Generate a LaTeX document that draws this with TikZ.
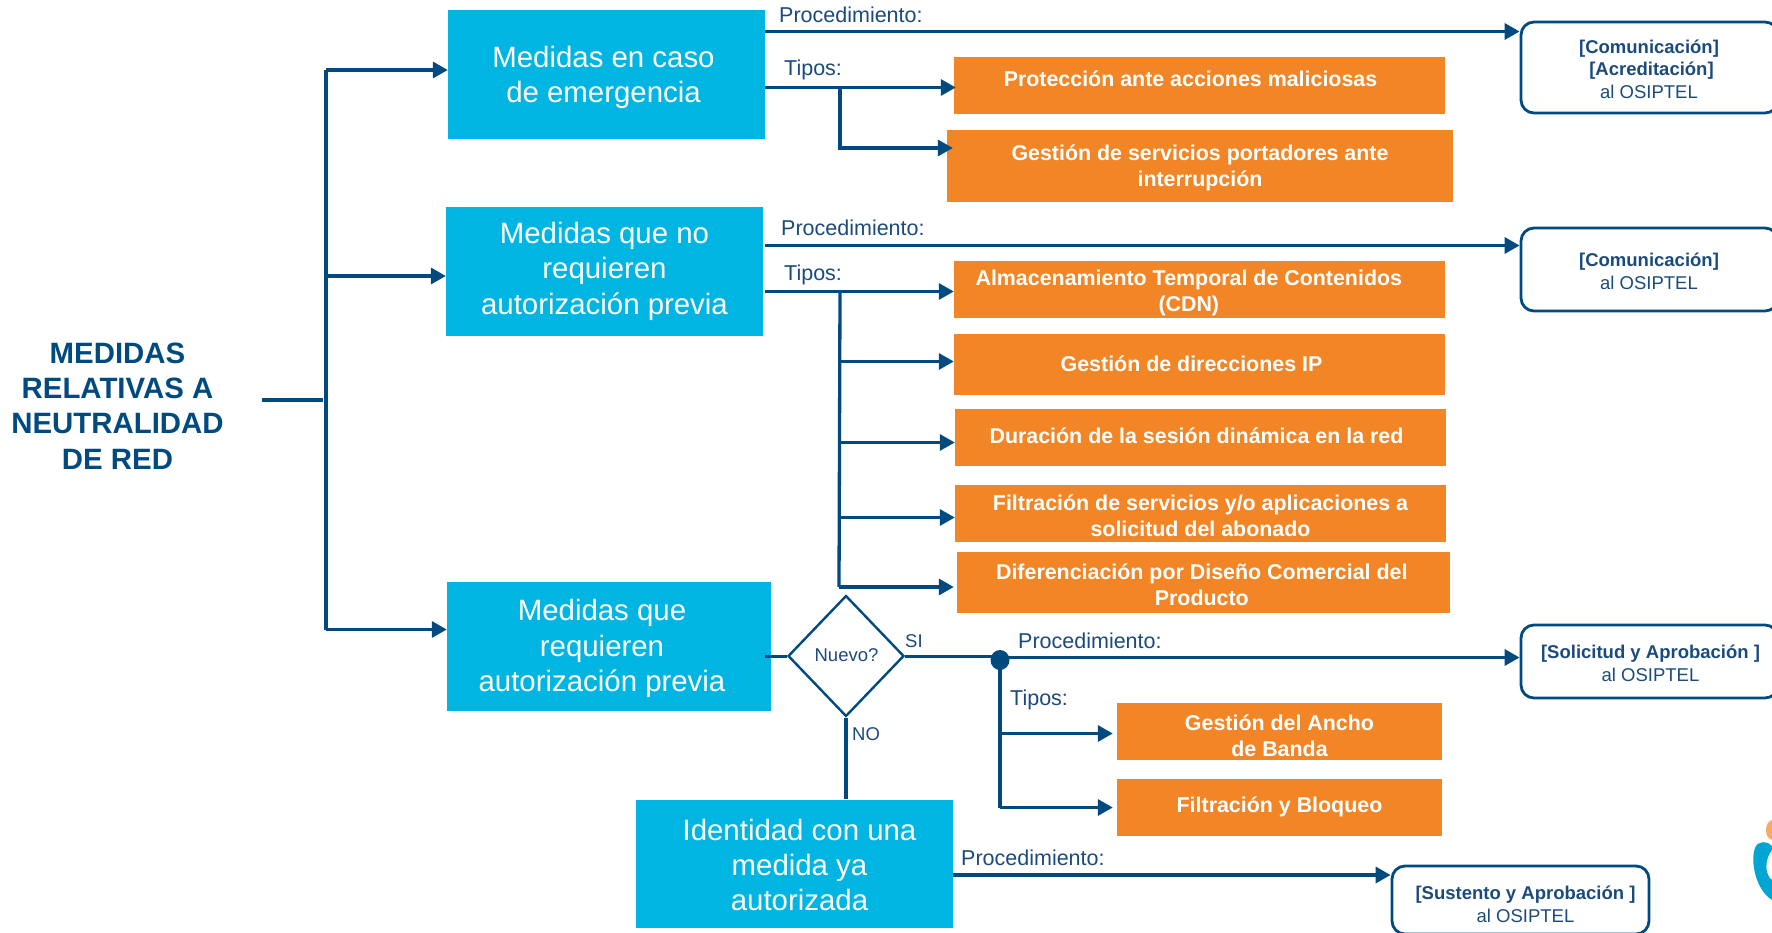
\documentclass[tikz,border=0pt]{standalone}
\usepackage{fontspec}
\setmainfont{Liberation Sans}
\usetikzlibrary{arrows.meta,shapes.geometric,calc}
\definecolor{navy}{HTML}{004A80}
\definecolor{skyb}{HTML}{00B5E2}
\definecolor{orng}{HTML}{F28627}
\definecolor{lbl}{HTML}{1B4A7C}
\tikzset{
 sz/.style 2 args={minimum width=#1pt,minimum height=#2pt},
 bluebox/.style={fill=skyb,inner sep=0pt},
 orangebox/.style={fill=orng,inner sep=0pt},
 resultbox/.style={draw=navy,line width=2.8pt,rounded corners=13pt,inner sep=0pt},
 bluetext/.style={text=white,inner sep=0pt,align=center,font=\fontsize{29.4}{35.4}\selectfont},
 orangetext/.style={text=white,inner sep=0pt,align=center,font=\fontsize{21.4}{26}\selectfont\bfseries},
 resulttext/.style={text=lbl,inner sep=0pt,align=center,font=\fontsize{18.5}{22.5}\selectfont},
 bt/.style n args={3}{label={[bluetext,xshift=#1pt,yshift=-#2pt]center:{#3}}},
 ot/.style n args={3}{label={[orangetext,xshift=#1pt,yshift=-#2pt]center:{#3}}},
 rt/.style n args={3}{label={[resulttext,xshift=#1pt,yshift=-#2pt]center:{#3}}},
 tag/.style={text=lbl,inner sep=0pt,font=\fontsize{21.5}{25}\selectfont},
 small/.style={text=lbl,inner sep=0pt,font=\fontsize{18.5}{22}\selectfont},
 link/.style={draw=navy,line width=3.3pt},
 arr/.style={link,-{Triangle[length=15pt,width=16pt]}},
}
\begin{document}
\begin{tikzpicture}[x=1pt,y=-1pt]
\useasboundingbox (0,0) rectangle (1772,932);
\clip (0,0) rectangle (1772,932);
% title
\node[text=navy,inner sep=0pt,align=center,font=\fontsize{29.4}{35.2}\selectfont\bfseries] (title) at (117.5,406) {MEDIDAS\\RELATIVAS A\\NEUTRALIDAD\\DE RED};
% blue boxes
\node[bluebox,sz={317}{129},bt={-3}{3.5}{Medidas en caso\\de emergencia}] (b1) at (606.5,74) {};
\node[bluebox,sz={317}{129},bt={0}{0}{Medidas que no\\requieren\\autorización previa}] (b2) at (604.5,271) {};
\node[bluebox,sz={324}{129},bt={-7}{2.5}{Medidas que\\requieren\\autorización previa}] (b3) at (609,646) {};
\node[bluebox,sz={317}{128},bt={5}{1.5}{Identidad con una\\medida ya\\autorizada}] (b4) at (794.5,863.5) {};
% orange boxes
\node[orangebox,sz={491}{57},ot={-9}{-6.5}{Protección ante acciones maliciosas}] (o1) at (1199.5,85) {};
\node[orangebox,sz={506}{72},ot={0}{2.4}{Gestión de servicios portadores ante\\interrupción}] (o2) at (1200,165.5) {};
\node[orangebox,sz={491}{57},ot={-10.7}{4}{Almacenamiento Temporal de Contenidos\\(CDN)}] (o3) at (1199.5,289) {};
\node[orangebox,sz={491}{61},ot={-8}{0}{Gestión de direcciones IP}] (o4) at (1199.5,364) {};
\node[orangebox,sz={491}{57},ot={-4}{-1.5}{Duración de la sesión dinámica en la red}] (o5) at (1200.5,437) {};
\node[orangebox,sz={491}{57},ot={0}{3}{Filtración de servicios y/o aplicaciones a\\solicitud del abonado}] (o6) at (1200.5,513) {};
\node[orangebox,sz={493}{61},ot={-1.7}{2.5}{Diferenciación por Diseño Comercial del\\Producto}] (o7) at (1203.5,582) {};
\node[orangebox,sz={325}{57},ot={0}{5.1}{Gestión del Ancho\\de Banda}] (o8) at (1279.5,731) {};
\node[orangebox,sz={325}{57},ot={0}{0}{Filtración y Bloqueo}] (o9) at (1279.5,807) {};
% result boxes
\node[resultbox,sz={257}{91},rt={-0.5}{1.5}{\textbf{[Comunicación]}\\\hspace*{5pt}\textbf{[Acreditación]}\\al OSIPTEL}] (r1) at (1649.5,67.5) {};
\node[resultbox,sz={257}{83},rt={-0.5}{1.7}{\textbf{[Comunicación]}\\al OSIPTEL}] (r2) at (1649.5,269.5) {};
\node[resultbox,sz={257}{73},rt={1}{1.7}{\textbf{[Solicitud y Aprobación ]}\\al OSIPTEL}] (r3) at (1649.5,661.5) {};
\node[resultbox,sz={257}{68},rt={5}{4.5}{\textbf{[Sustento y Aprobación ]}\\al OSIPTEL}] (r4) at (1520.5,900) {};
% decision
\node[diamond,draw=navy,line width=2.4pt,inner sep=0pt,sz={116}{121},shape aspect=0.958] (d) at (846,656) {};
\node[small] (dt) at (846.5,655) {Nuevo?};
\fill[navy] (1000,660) ellipse (9.5pt and 10pt);
\coordinate (dot) at (1000,660);
% labels
\node[tag,anchor=west] (p1) at (779,15) {Procedimiento:};
\node[tag,anchor=west] (t1) at (784,70) {Tipos:};
\node[tag,anchor=west] (p2) at (781,228) {Procedimiento:};
\node[tag,anchor=west] (t2) at (784,275) {Tipos:};
\node[tag,anchor=west] (p3) at (1018,641) {Procedimiento:};
\node[tag,anchor=west] (t3) at (1010,700) {Tipos:};
\node[tag,anchor=west] (p4) at (961,858) {Procedimiento:};
\node[small,anchor=west] (si) at (905,641) {SI};
\node[small,anchor=west] (no) at (852,734) {NO};
% trunk
\coordinate (tr1) at (326,70);
\coordinate (tr2) at (326,276);
\coordinate (tr3) at (326,629.5);
\coordinate (st1) at (262,400);
\coordinate (st2) at (323,400);
\draw[link] (st1) -- (st2);
\draw[link] (tr1) -- (tr3);
\draw[arr] (tr1) -- (b1.west |- tr1);
\draw[arr] (tr2) -- (b2.west |- tr2);
\draw[arr] (tr3) -- (b3.west |- tr3);
% b1 outputs
\coordinate (b1a) at (765,31.5);
\coordinate (b1b) at (765,87.5);
\coordinate (v1a) at (840,87.5);
\coordinate (v1b) at (840,148);
\draw[arr] (b1a) -- (r1.west |- b1a);
\draw[arr,shorten >=-2pt] (b1b) -- (o1.west |- b1b);
\draw[arr,shorten >=-6pt] (v1a) -- (v1b) -- (o2.west |- v1b);
% b2 outputs
\coordinate (b2a) at (765,245.5);
\coordinate (b2b) at (765,291.5);
\coordinate (v2a) at (840,291.5);
\coordinate (v2c) at (840,361.5);
\coordinate (v2d) at (840,442.5);
\coordinate (v2e) at (840,517.5);
\coordinate (v2f) at (839,587);
\draw[arr] (b2a) -- (r2.west |- b2a);
\draw[arr] (b2b) -- (o3.west |- b2b);
\draw[link] (v2a) -- (v2f);
\draw[arr] (v2c) -- (o4.west |- v2c);
\draw[arr] (v2d) -- (o5.west |- v2d);
\draw[arr] (v2e) -- (o6.west |- v2e);
\draw[arr,shorten >=3pt] (v2f) -- (o7.west |- v2f);
% b3 / decision
\coordinate (b3s) at (765,656);
\draw[link,line width=3pt] (b3s) -- (d.west);
\draw[link,line width=3pt] (d.east) -- (dot |- d.east);
\draw[link] (d.south) -- (b4.north -| d.south);
\coordinate (dp) at (1000,657.5);
\coordinate (v3a) at (1000,733.5);
\coordinate (v3b) at (1000,807.5);
\draw[arr] (dp) -- (r3.west |- dp);
\draw[link] (dot) -- (v3b);
\draw[arr,shorten >=4pt] (v3a) -- (o8.west |- v3a);
\draw[arr,shorten >=4pt] (v3b) -- (o9.west |- v3b);
% b4 output
\coordinate (b4a) at (953,875);
\draw[arr] (b4a) -- (r4.west |- b4a);
% logo fragment
\fill[orng!70!white] (1772,820) .. controls (1764,822) and (1764,838) .. (1772,840) -- cycle;
\fill[skyb!85!navy] (1772,846) .. controls (1768,841) and (1758,840) .. (1755,848) .. controls (1750,862) and (1756,890) .. (1772,900) -- (1772,880) .. controls (1765,875) and (1764,860) .. (1772,850) -- cycle;
\end{tikzpicture}
\end{document}
